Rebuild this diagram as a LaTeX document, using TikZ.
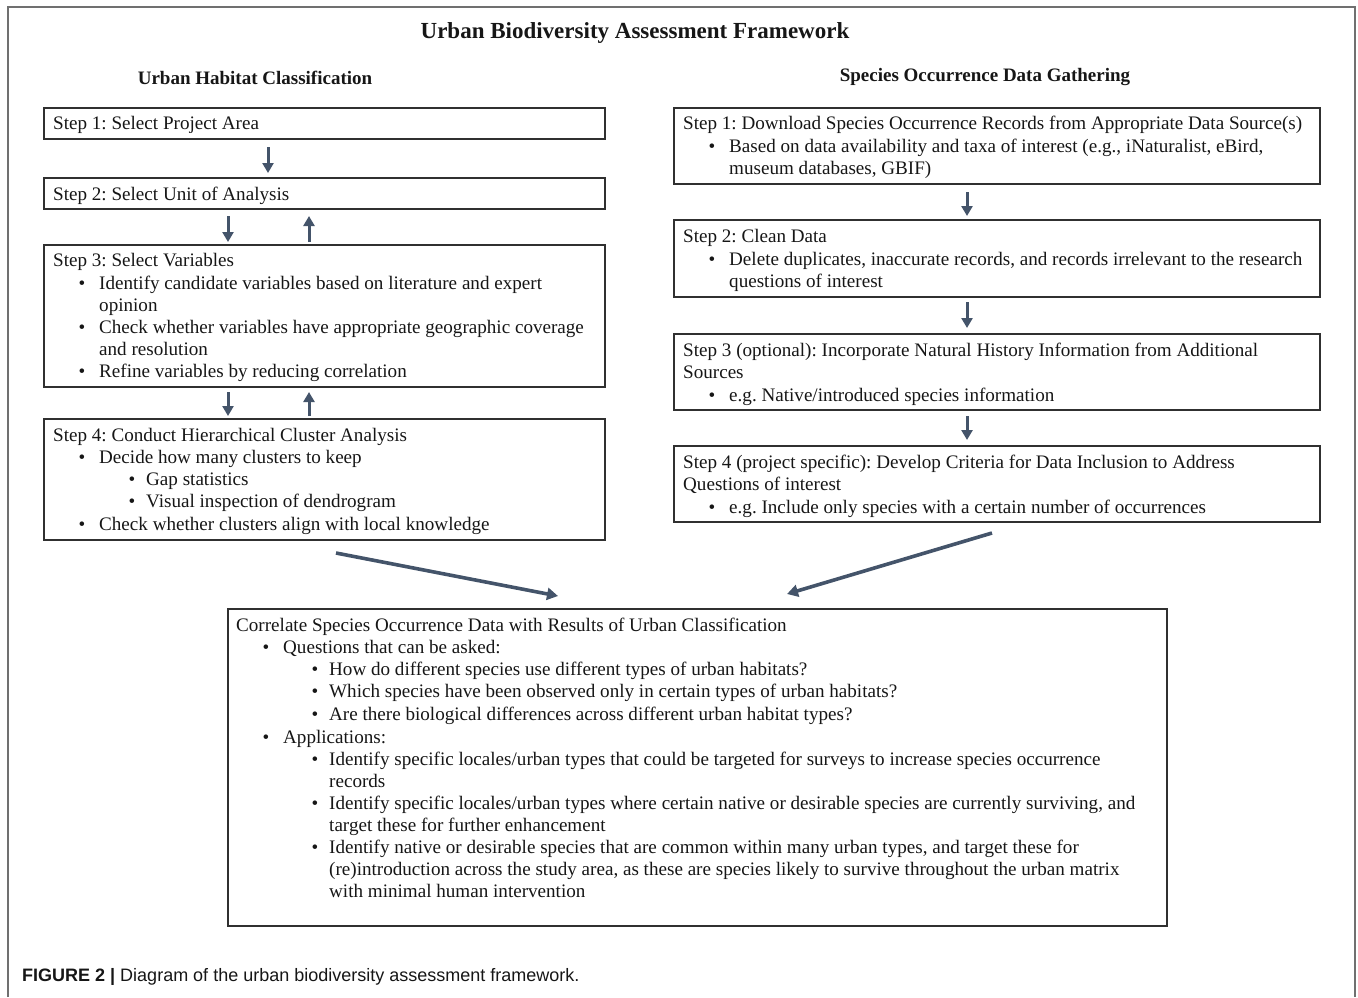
\documentclass[tikz,border=0pt]{standalone}
\usepackage{fontspec}
\setmainfont{Liberation Serif}
\newfontfamily\capfont{Liberation Sans}
\usetikzlibrary{calc,arrows.meta}
\definecolor{arrc}{HTML}{44546A}
\definecolor{boxc}{HTML}{303030}
\definecolor{framec}{HTML}{707070}
\definecolor{txtc}{HTML}{161616}
\frenchspacing
\newcommand\blt{\llap{\textbullet\hspace{14pt}}}
\newcommand\bltb{\llap{\textbullet\hspace{11pt}}}
\newcommand\tline[4]{\node[txt] (#1) at (#2,#3) {#4};}
\begin{document}
\begin{tikzpicture}[x=1pt,y=-1pt,
  box/.style={draw=boxc, line width=1.4pt, anchor=north west, inner sep=0pt, outer sep=0pt},
  txt/.style={anchor=base west, inner sep=0pt, font=\fontsize{19.1}{22}\selectfont, text=txtc},
  head/.style={anchor=base, inner sep=0pt, font=\fontsize{19}{22}\selectfont\bfseries, text=txtc},
  varr/.style={draw=arrc, line width=3pt, -{Triangle[length=10pt,width=11pt]}},
  darr/.style={draw=arrc, line width=3.6pt, -{Triangle[length=11pt,width=12pt]}},
  frame/.style={draw=framec, line width=2pt}
  ]
\useasboundingbox (0,0) rectangle (1358,997);
% outer frame (open at bottom)
\coordinate (f1) at (7.5,997);
\coordinate (f2) at (7.5,6.5);
\coordinate (f3) at (1354.5,6.5);
\coordinate (f4) at (1354.5,997);
\draw[frame] (f1) -- (f2) -- (f3) -- (f4);

% titles
\node[head, font=\fontsize{23}{26}\selectfont\bfseries] (title) at (635,38.5) {Urban Biodiversity Assessment Framework};
\node[head] (hleft) at (255,84) {Urban Habitat Classification};
\node[head] (hright) at (985,81) {Species Occurrence Data Gathering};

% left boxes
\node[box, minimum width=561pt, minimum height=31pt] (L1) at (44,108) {};
\node[box, minimum width=561pt, minimum height=31pt] (L2) at (44,178) {};
\node[box, minimum width=561pt, minimum height=142pt] (L3) at (44,245) {};
\node[box, minimum width=561pt, minimum height=121pt] (L4) at (44,419) {};

\tline{l1a}{53}{129}{Step 1: Select Project Area}
\tline{l2a}{53}{200}{Step 2: Select Unit of Analysis}
\tline{l3a}{53}{266}{Step 3: Select Variables}
\tline{l3b}{99}{289}{\blt Identify candidate variables based on literature and expert}
\tline{l3c}{99}{311}{opinion}
\tline{l3d}{99}{333}{\blt Check whether variables have appropriate geographic coverage}
\tline{l3e}{99}{355}{and resolution}
\tline{l3f}{99}{377}{\blt Refine variables by reducing correlation}
\tline{l4a}{53}{441}{Step 4: Conduct Hierarchical Cluster Analysis}
\tline{l4b}{99}{463}{\blt Decide how many clusters to keep}
\tline{l4c}{146}{485}{\bltb Gap statistics}
\tline{l4d}{146}{507}{\bltb Visual inspection of dendrogram}
\tline{l4e}{99}{530}{\blt Check whether clusters align with local knowledge}

% right boxes
\node[box, minimum width=646pt, minimum height=76pt] (R1) at (674,108) {};
\node[box, minimum width=646pt, minimum height=77pt] (R2) at (674,220) {};
\node[box, minimum width=646pt, minimum height=76pt] (R3) at (674,334) {};
\node[box, minimum width=646pt, minimum height=76pt] (R4) at (674,446) {};

\tline{r1a}{683}{129}{Step 1: Download Species Occurrence Records from Appropriate Data Source(s)}
\tline{r1b}{729}{152}{\blt Based on data availability and taxa of interest (e.g., iNaturalist, eBird,}
\tline{r1c}{729}{174}{museum databases, GBIF)}
\tline{r2a}{683}{242}{Step 2: Clean Data}
\tline{r2b}{729}{265}{\blt Delete duplicates, inaccurate records, and records irrelevant to the research}
\tline{r2c}{729}{287}{questions of interest}
\tline{r3a}{683}{356}{Step 3 (optional): Incorporate Natural History Information from Additional}
\tline{r3b}{683}{378}{Sources}
\tline{r3c}{729}{401}{\blt e.g. Native/introduced species information}
\tline{r4a}{683}{468}{Step 4 (project specific): Develop Criteria for Data Inclusion to Address}
\tline{r4b}{683}{490}{Questions of interest}
\tline{r4c}{729}{513}{\blt e.g. Include only species with a certain number of occurrences}

% bottom box
\node[box, minimum width=939pt, minimum height=317pt] (B) at (228,609) {};
\tline{b01}{236}{631}{Correlate Species Occurrence Data with Results of Urban Classification}
\tline{b02}{283}{653}{\blt Questions that can be asked:}
\tline{b03}{329}{675}{\bltb How do different species use different types of urban habitats?}
\tline{b04}{329}{697}{\bltb Which species have been observed only in certain types of urban habitats?}
\tline{b05}{329}{720}{\bltb Are there biological differences across different urban habitat types?}
\tline{b06}{283}{743}{\blt Applications:}
\tline{b07}{329}{765}{\bltb Identify specific locales/urban types that could be targeted for surveys to increase species occurrence}
\tline{b08}{329}{787}{records}
\tline{b09}{329}{809}{\bltb Identify specific locales/urban types where certain native or desirable species are currently surviving, and}
\tline{b10}{329}{831}{target these for further enhancement}
\tline{b11}{329}{853}{\bltb Identify native or desirable species that are common within many urban types, and target these for}
\tline{b12}{329}{875}{(re)introduction across the study area, as these are species likely to survive throughout the urban matrix}
\tline{b13}{329}{897}{with minimal human intervention}

% vertical arrows, left column
\draw[varr] ($(L1.south west)+(224,8)$) -- ($(L2.north west)+(224,-5)$);
\draw[varr] ($(L2.south west)+(184,7)$) -- ($(L3.north west)+(184,-3)$);
\draw[varr] ($(L3.north west)+(265,-3)$) -- ($(L2.south west)+(265,7)$);
\draw[varr] ($(L3.south west)+(184,5)$) -- ($(L4.north west)+(184,-3)$);
\draw[varr] ($(L4.north west)+(265,-3)$) -- ($(L3.south west)+(265,5)$);

% vertical arrows, right column
\draw[varr] ($(R1.south west)+(293,8)$) -- ($(R2.north west)+(293,-4)$);
\draw[varr] ($(R2.south west)+(293,5)$) -- ($(R3.north west)+(293,-6)$);
\draw[varr] ($(R3.south west)+(293,6)$) -- ($(R4.north west)+(293,-6)$);

% diagonal arrows to bottom box
\draw[darr] ($(L4.south west)+(292,13)$) -- ($(B.north west)+(330,-13)$);
\draw[darr] ($(R4.south west)+(318,11)$) -- ($(B.north west)+(559,-15)$);

% caption
\node[anchor=base west, inner sep=0pt, font=\capfont\fontsize{18}{22}\selectfont, text=txtc] (cap) at (22,981) {\textbf{FIGURE 2 |} Diagram of the urban biodiversity assessment framework.};
\end{tikzpicture}
\end{document}
